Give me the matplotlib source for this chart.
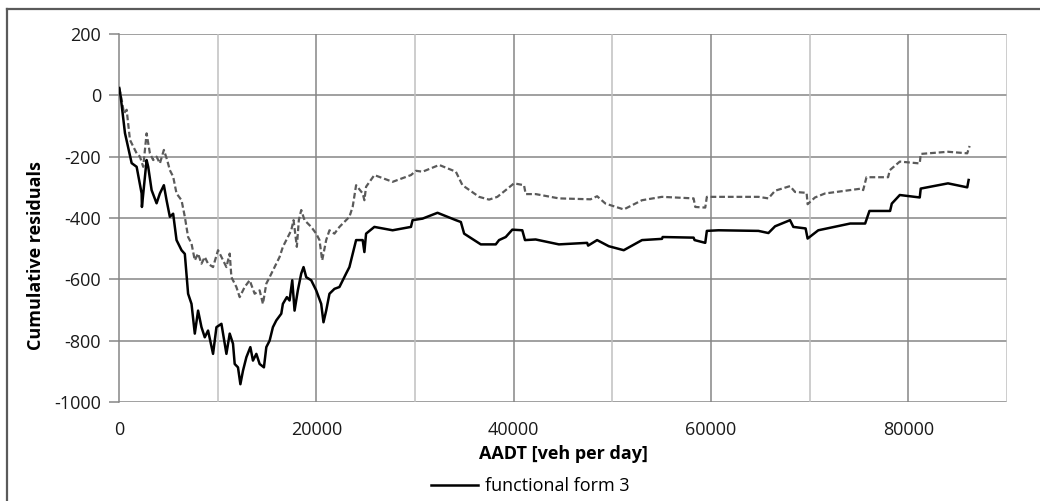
import matplotlib
matplotlib.use("Agg")
import matplotlib.pyplot as plt
from matplotlib.lines import Line2D

plt.rcParams['font.family'] = ['Open Sans', 'DejaVu Sans']
plt.rcParams['axes.unicode_minus'] = False

# functional form 3 (black, solid)
aadt_f3 = [30, 172, 607, 1284, 1790, 2295, 2325, 2800, 2962, 3306, 3811, 4145, 4550,
           4822, 5156, 5490, 5833, 6339, 6673, 7006, 7350, 7684, 8017, 8361, 8695,
           9028, 9534, 9877, 10383, 10888, 11222, 11556, 11728, 12061, 12304, 12567,
           12911, 13315, 13578, 13921, 14255, 14690, 14933, 15266, 15600, 15944,
           16449, 16611, 17015, 17288, 17561, 17794, 18127, 18471, 18704, 18977,
           19482, 19988, 20493, 20726, 20999, 21332, 21838, 22343, 23020, 23354,
           24031, 24699, 24871, 25043, 25882, 27732, 29592, 29754, 30765, 32282,
           34142, 34648, 34981, 35992, 36669, 38185, 38519, 39196, 39863, 40874,
           41148, 42230, 44585, 47446, 47547, 48457, 49640, 51157, 53007, 55029,
           55100, 58234, 58335, 59416, 59578, 60761, 64805, 65816, 66493, 68009,
           68344, 69587, 69790, 70871, 74104, 75621, 76056, 78149, 78321, 79132,
           81154, 81255, 84015, 85967, 86108]
resid_f3 = [24, -4, -123, -221, -233, -320, -364, -211, -233, -309, -352, -320, -293,
            -342, -396, -386, -472, -505, -517, -647, -680, -777, -702, -756, -789,
            -767, -843, -756, -745, -843, -777, -810, -876, -887, -942, -898,
            -854, -821, -865, -843, -876, -887, -821, -800, -756, -734,
            -712, -680, -658, -669, -603, -702, -636, -581, -560, -593,
            -603, -636, -680, -740, -702, -647, -631, -625, -581, -560,
            -472, -472, -511, -451, -429, -440, -429, -407, -402, -383,
            -407, -413, -451, -472, -486, -486, -472, -462, -438, -440,
            -472, -470, -486, -481, -490, -472, -492, -505, -472, -468,
            -462, -464, -472, -481, -442, -440, -442, -449, -427, -407,
            -429, -434, -467, -440, -418, -418, -377, -377, -353, -325,
            -333, -304, -287, -300, -276]

# second model (grey, dashed) - not in legend
aadt_b = [30, 273, 506, 778, 1112, 1446, 1790, 2123, 2457, 2800, 3134, 3467, 3811,
          4145, 4550, 4883, 5156, 5490, 5833, 6339, 6673, 7006, 7350, 7684, 8017,
          8361, 8695, 9028, 9534, 10039, 10383, 10888, 11222, 11394, 11899, 12233,
          12739, 13244, 13750, 14255, 14589, 14933, 15266, 15772, 16277, 16611,
          17116, 17460, 17693, 18026, 18228, 18471, 18805, 19482, 19988, 20321,
          20594, 20999, 21332, 21838, 22343, 23020, 23354, 23688, 24031, 24699,
          24871, 25043, 25882, 27732, 29592, 30097, 30765, 32453, 34142, 34809,
          36497, 37508, 38347, 39196, 40036, 41047, 41219, 42230, 44585, 47790,
          48457, 49307, 51157, 53007, 55029, 58234, 58406, 59416, 59578, 64805,
          65816, 66493, 68009, 68514, 69688, 69790, 70538, 71549, 75250, 75421,
          75755, 77947, 78119, 79132, 81154, 81255, 84015, 85967, 86209]
resid_b = [24, -15, -58, -47, -145, -167, -189, -200, -233, -124, -189, -211, -200,
           -222, -178, -211, -244, -265, -320, -342, -396, -462, -483, -538, -516,
           -549, -527, -549, -560, -505, -527, -560, -516, -593, -625, -658,
           -625, -603, -647, -636, -680, -614, -593, -560, -527, -494,
           -462, -440, -407, -494, -407, -374, -407, -429, -451, -472,
           -538, -472, -440, -451, -429, -407, -396, -363, -293, -320,
           -342, -298, -260, -282, -260, -246, -249, -227, -249, -293,
           -331, -340, -331, -309, -287, -293, -322, -322, -336, -339,
           -329, -353, -372, -342, -331, -336, -364, -366, -331, -331,
           -336, -311, -296, -315, -318, -355, -333, -320, -304, -309,
           -267, -267, -244, -216, -222, -191, -184, -189, -165]

xticks = [0, 20000, 40000, 60000, 80000]
yticks = [-1000, -800, -600, -400, -200, 0, 200]

fig = plt.figure(figsize=(10.4, 5.01), dpi=100)
ax = fig.add_axes([0.1144, 0.1976, 0.8539, 0.7345])

# grid: dark horizontals, alternating dark/light verticals
for yv in yticks:
    ax.axhline(yv, color='#868686', lw=1.1, zorder=0)
for xv in range(10000, 100000, 10000):
    c = '#868686' if xv % 20000 == 0 else '#c0c0c0'
    ax.axvline(xv, color=c, lw=1.1, zorder=0)

ax.plot(aadt_b, resid_b, color='#5a5a5a', lw=1.6, dashes=(2.6, 1.3), zorder=2)
ax.plot(aadt_f3, resid_f3, color='black', lw=1.8, zorder=3,
        label='functional form 3')

ax.set_xlim(0, 90000)
ax.set_ylim(-1000, 200)
ax.set_xticks(xticks)
ax.set_yticks(yticks)
ax.tick_params(axis='x', length=0, pad=14, labelsize=13, colors='#1a1a1a')
ax.tick_params(axis='y', length=7, width=1.1, color='#868686', pad=6,
               labelsize=13, labelcolor='#1a1a1a')

for s in ['top', 'right', 'bottom']:
    ax.spines[s].set_visible(False)
ax.spines['left'].set_color('#868686')
ax.spines['left'].set_linewidth(1.1)

ax.set_ylabel('Cumulative residuals', fontsize=13, fontweight='bold')
ax.yaxis.set_label_coords(-0.083, 0.397)
ax.set_xlabel('AADT [veh per day]', fontsize=13, fontweight='bold', labelpad=4)

handles, labels = ax.get_legend_handles_labels()
fig.legend(handles, labels, loc='center', bbox_to_anchor=(0.51, 0.03),
           frameon=False, fontsize=13, handlelength=2.6, handletextpad=0.4)

# outer chart border (top and left visible)
fig.add_artist(Line2D([0.0067, 0.0067], [0, 0.982], transform=fig.transFigure,
                      color='#5a5a5a', lw=1.6))
fig.add_artist(Line2D([0.0067, 1.0], [0.982, 0.982], transform=fig.transFigure,
                      color='#5a5a5a', lw=1.6))

fig.savefig('out.png', dpi=100)
